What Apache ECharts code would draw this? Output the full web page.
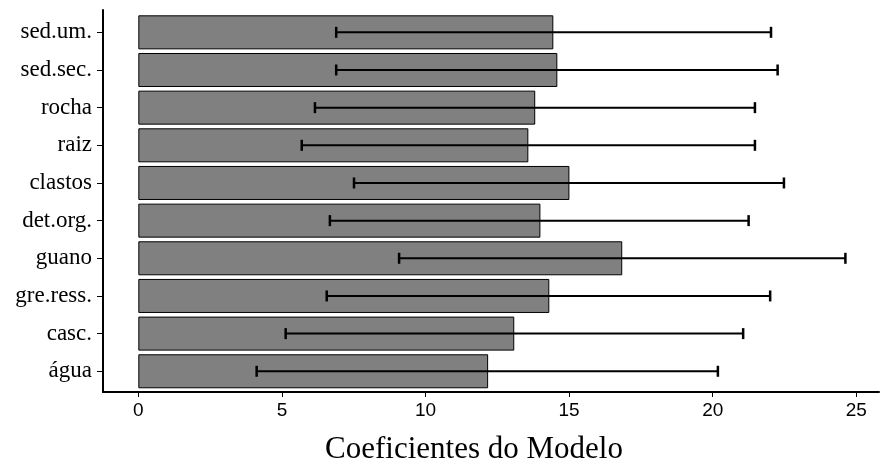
<!DOCTYPE html>
<html>
<head>
<meta charset="utf-8">
<script src="https://cdn.jsdelivr.net/npm/echarts@6/dist/echarts.min.js"></script>
<style>
  html, body { margin: 0; padding: 0; background: #ffffff; }
  #chart { width: 893px; height: 470px; }
</style>
</head>
<body>
<div id="chart"></div>
<script>
// Data (top to bottom as drawn)
var categories = ['sed.um.', 'sed.sec.', 'rocha', 'raiz', 'clastos', 'det.org.', 'guano', 'gre.ress.', 'casc.', 'água'];
var coefficients = [14.45, 14.59, 13.82, 13.58, 15.01, 14.00, 16.85, 14.31, 13.09, 12.18];
var lowerBounds = [6.89, 6.89, 6.15, 5.69, 7.51, 6.67, 9.08, 6.56, 5.13, 4.12];
var upperBounds = [22.03, 22.26, 21.47, 21.47, 22.48, 21.25, 24.62, 22.00, 21.06, 20.18];
var tickValues = [0, 5, 10, 15, 20, 25];
var axisTitle = 'Coeficientes do Modelo';

var xMin = -1.23, xMax = 25.79;

var errorData = categories.map(function (c, i) { return [i, lowerBounds[i], upperBounds[i]]; });

var chart = echarts.init(document.getElementById('chart'), null, { renderer: 'canvas' });

var option = {
  backgroundColor: '#ffffff',
  animation: false,
  grid: [
    { left: 103, right: 14, top: 13.5, bottom: 79.9, containLabel: false },
    { left: 103, right: 14, top: 10, bottom: 78, containLabel: false }
  ],
  xAxis: [
    { type: 'value', gridIndex: 0, min: xMin, max: xMax, show: false },
    {
      type: 'value', gridIndex: 1, min: xMin, max: xMax,
      axisLine: { show: true, onZero: false, lineStyle: { color: '#000', width: 2 } },
      axisTick: { show: true, customValues: tickValues, length: 5, lineStyle: { color: '#000', width: 1 } },
      axisLabel: {
        show: true, customValues: tickValues, margin: 9,
        color: '#000', fontFamily: 'Liberation Sans', fontSize: 19
      },
      splitLine: { show: false },
      name: axisTitle,
      nameLocation: 'middle',
      nameGap: 42,
      nameTextStyle: { fontFamily: 'Liberation Serif', fontSize: 31, color: '#000', padding: [0, 34, 0, 0] }
    }
  ],
  yAxis: [
    {
      type: 'category', gridIndex: 0, data: categories, inverse: true,
      axisLine: { show: false, onZero: false },
      axisTick: { show: true, alignWithLabel: true, length: 6, lineStyle: { color: '#000', width: 1 } },
      axisLabel: { color: '#000', fontFamily: 'Liberation Serif', fontSize: 23, margin: 11 },
      splitLine: { show: false }
    },
    {
      type: 'value', gridIndex: 1, min: 0, max: 1,
      axisLine: { show: true, onZero: false, lineStyle: { color: '#000', width: 2 } },
      axisTick: { show: false }, axisLabel: { show: false }, splitLine: { show: false }
    }
  ],
  series: [
    {
      type: 'bar',
      xAxisIndex: 0, yAxisIndex: 0,
      data: coefficients,
      barCategoryGap: '9.7%',
      itemStyle: { color: '#808080', borderColor: '#000', borderWidth: 1 },
      silent: true
    },
    {
      type: 'custom',
      xAxisIndex: 0, yAxisIndex: 0,
      data: errorData,
      silent: true,
      z: 10,
      renderItem: function (params, api) {
        var idx = api.value(0);
        var lo = api.coord([api.value(1), idx]);
        var hi = api.coord([api.value(2), idx]);
        var capH = 11;
        var style = { stroke: '#000', lineWidth: 2 };
        return {
          type: 'group',
          children: [
            { type: 'line', shape: { x1: lo[0], y1: lo[1], x2: hi[0], y2: hi[1] }, style: style },
            { type: 'line', shape: { x1: lo[0], y1: lo[1] - capH / 2, x2: lo[0], y2: lo[1] + capH / 2 }, style: { stroke: '#000', lineWidth: 2.5 } },
            { type: 'line', shape: { x1: hi[0], y1: hi[1] - capH / 2, x2: hi[0], y2: hi[1] + capH / 2 }, style: { stroke: '#000', lineWidth: 2.5 } }
          ]
        };
      }
    }
  ]
};

chart.setOption(option);
</script>
</body>
</html>
